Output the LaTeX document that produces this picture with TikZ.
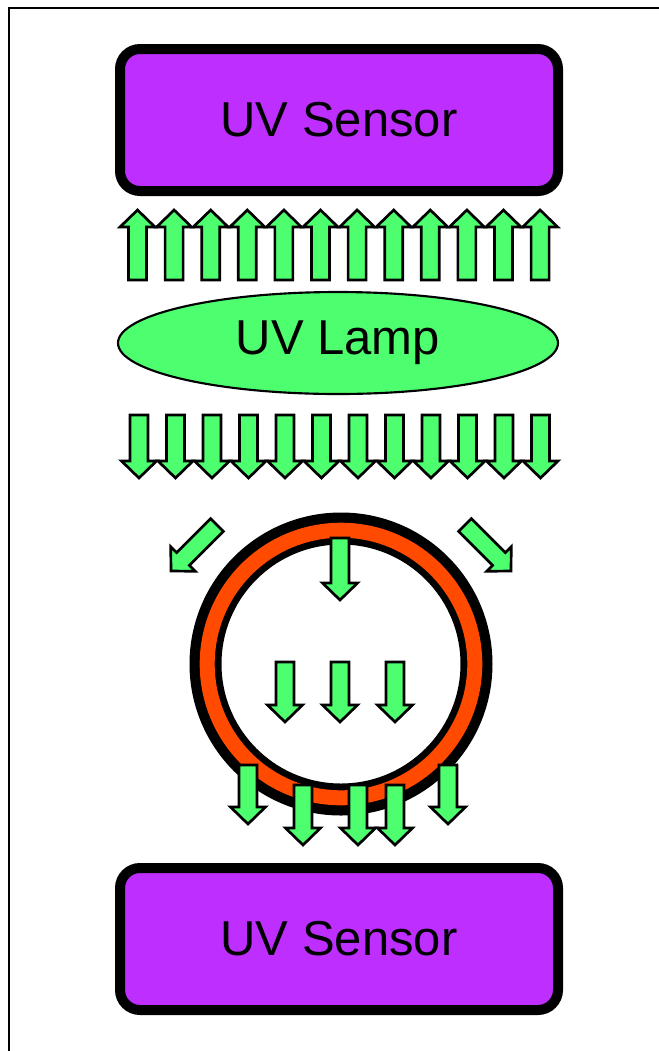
\documentclass[tikz,border=0pt]{standalone}
\usepackage{xcolor}
\usepackage{fontspec}
\setmainfont{Liberation Sans}
\usetikzlibrary{shapes.geometric}
\definecolor{sensorpurple}{HTML}{BE2EFF}
\definecolor{raygreen}{HTML}{4DFF6E}
\definecolor{ringorange}{HTML}{FF4A00}

\tikzset{
  sensorbox/.style={draw=black, line width=7.5pt, fill=sensorpurple, rounded corners=15pt,
    minimum width=328.5pt, minimum height=106.5pt, inner sep=0pt},
  lampshape/.style={ellipse, draw=black, line width=1.6pt, fill=raygreen,
    minimum width=330pt, minimum height=76.5pt, inner sep=0pt},
  bigtext/.style={font=\fontsize{36.75}{44}\selectfont},
  rayfill/.style={draw=black, line width=2pt, fill=raygreen, line join=miter},
  pics/uvray/.style={code={
    \draw[rayfill] (-9,0) -- (-9,#1-17) -- (-17.5,#1-17) -- (0,#1)
      -- (17.5,#1-17) -- (9,#1-17) -- (9,0) -- cycle;
  }}
}

\begin{document}
\begin{tikzpicture}[x=0.75pt, y=-0.75pt]
\useasboundingbox (0,0) rectangle (659,1051);
\draw[line width=1.2pt] (659,8) -- (9,8) -- (9,1051);

% sensors and lamp
\node[sensorbox, bigtext] (sensortop) at (339,120) {UV Sensor};
\node[lampshape, bigtext] (lamp) at (338,343) {UV Lamp};
\node[sensorbox, bigtext] (sensorbottom) at (339,939) {UV Sensor};

% rays up to the sensor and down from the lamp
\foreach \i in {0,...,11}
  \pic[rotate=180] at ({137.5+36.6*\i},280) {uvray=70};
\foreach \i in {0,...,11}
  \pic at ({139+36.5*\i},415) {uvray=63};

% sample ring
\coordinate (ring) at (341,664);
\draw[black, line width=24pt] (ring) circle[radius=135.5];
\draw[ringorange, line width=11.25pt] (ring) circle[radius=133.8];

% scattered rays
\pic[rotate=-45] at (217,525) {uvray=65};
\pic[rotate=45] at (465,525) {uvray=65};
\pic at (340,538) {uvray=62};
\foreach \x in {285,340,395}
  \pic at (\x,662) {uvray=60};
\foreach \x in {248,448}
  \pic at (\x,765) {uvray=59};
\foreach \x in {303,358,395}
  \pic at (\x,785) {uvray=60};
\end{tikzpicture}
\end{document}
